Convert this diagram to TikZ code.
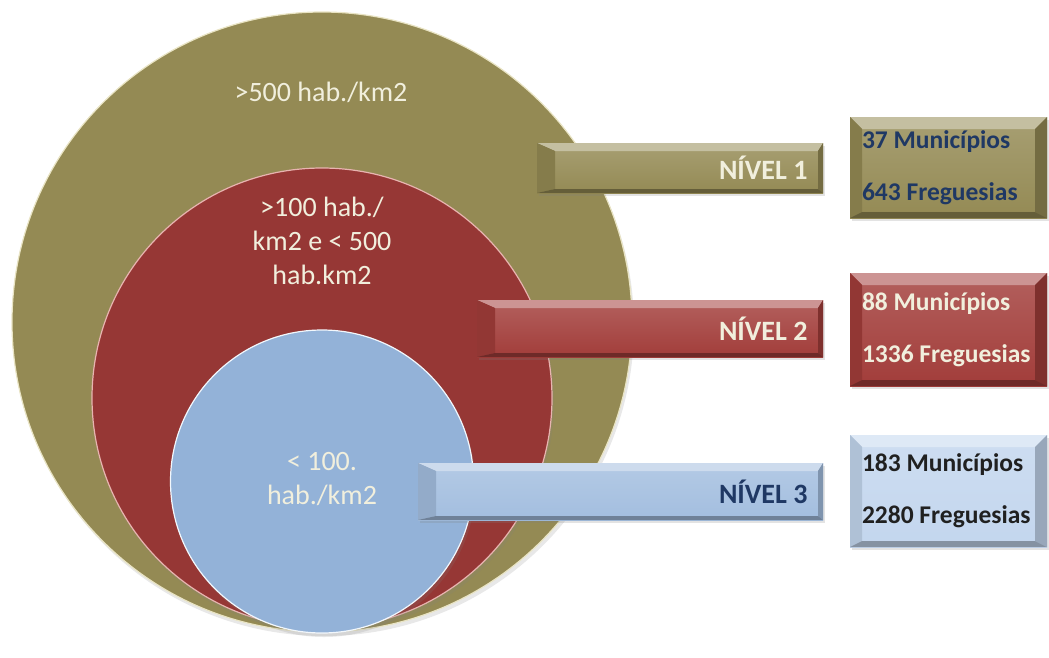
\documentclass[tikz,border=0pt]{standalone}
\usepackage{fontspec}
\setmainfont{Carlito}
\usetikzlibrary{calc,shadows}

\definecolor{lvOlive}{HTML}{948A54}
\definecolor{lvOliveRim}{HTML}{E9E4C4}
\definecolor{lvRed}{HTML}{963735}
\definecolor{lvRedRim}{HTML}{E8B4B0}
\definecolor{lvBlue}{HTML}{93B2D8}
\definecolor{lvBlueRim}{HTML}{F2F7FC}
\definecolor{lvBarRed}{HTML}{A23D3A}
\definecolor{lvBarBlue}{HTML}{A3BEDF}
\definecolor{lvBoxBlue}{HTML}{C3D6EE}
\definecolor{lvCream}{HTML}{F1EFDD}
\definecolor{lvNavy}{HTML}{1F3864}
\definecolor{lvInk}{HTML}{202020}

% right-aligned single line of a given width
\newcommand{\lvRight}[2]{\makebox[#1][r]{#2}}
% two left-aligned lines of a given width
\newcommand{\lvLines}[2]{\parbox[c]{#1}{\raggedright\hyphenpenalty=10000 #2}}

% bevel depths (left, right, top, bottom)
\def\bvL{12pt}\def\bvR{12pt}\def\bvT{10pt}\def\bvB{5pt}

\tikzset{
  bev l/.code={\def\bvL{#1}},
  bev r/.code={\def\bvR{#1}},
  bev t/.code={\def\bvT{#1}},
  bev b/.code={\def\bvB{#1}},
  bevelled/.style={
    top color=#1!82!white, bottom color=#1, draw=none, inner ysep=0pt,
    drop shadow={opacity=0.22, shadow xshift=1.5pt, shadow yshift=-3pt},
    path picture={
      \coordinate (bv-a) at (path picture bounding box.north west);
      \coordinate (bv-b) at (path picture bounding box.north east);
      \coordinate (bv-c) at (path picture bounding box.south east);
      \coordinate (bv-d) at (path picture bounding box.south west);
      \coordinate (bv-ia) at ($(bv-a)+(\bvL,-\bvT)$);
      \coordinate (bv-ib) at ($(bv-b)+(-\bvR,-\bvT)$);
      \coordinate (bv-ic) at ($(bv-c)+(-\bvR,\bvB)$);
      \coordinate (bv-id) at ($(bv-d)+(\bvL,\bvB)$);
      \fill[#1!55!white] (bv-a) -- (bv-b) -- (bv-ib) -- (bv-ia) -- cycle;
      \fill[#1!90!black] (bv-a) -- (bv-ia) -- (bv-id) -- (bv-d) -- cycle;
      \fill[#1!78!black] (bv-b) -- (bv-ib) -- (bv-ic) -- (bv-c) -- cycle;
      \fill[#1!68!black] (bv-d) -- (bv-id) -- (bv-ic) -- (bv-c) -- cycle;
    }},
  disc/.style={circle, inner sep=0pt, minimum size=#1, line width=1.2pt,
    drop shadow={opacity=0.18, shadow xshift=2pt, shadow yshift=-4pt}},
  disclabel/.style={text=lvCream, align=center, font=\fontsize{28}{34}\selectfont},
  levelbar/.style n args={2}{bevelled=#1, bev l=18pt, bev r=5pt, bev t=8pt, bev b=4pt,
    minimum height=#2, inner xsep=15.5pt,
    font=\bfseries\fontsize{28}{30}\selectfont},
  countbox/.style={bevelled=#1, bev l=12pt, bev r=12pt, bev t=12pt, bev b=6pt,
    inner xsep=12pt, font=\bfseries\fontsize{25.5}{52}\selectfont},
}

\begin{document}
\begin{tikzpicture}[x=1pt, y=-1pt]
  \useasboundingbox (0,0) rectangle (1049,657);

  % nested density discs
  \node[disc=620pt, fill=lvOlive, draw=lvOliveRim] (d1) at (322,322) {};
  \node[disc=460pt, fill=lvRed, draw=lvRedRim] (d2) at (322,398) {};
  \node[disc=303pt, fill=lvBlue, draw=lvBlueRim] (d3) at (322,481.5) {};

  \node[disclabel] (t1) at (321,92) {>500 hab./km2};
  \node[disclabel] (t2) at (322,241) {>100 hab./\\km2 e < 500\\hab.km2};
  \node[disclabel] (t3) at (322,479) {< 100.\\hab./km2};

  % level bars
  \node[levelbar={lvOlive}{50pt}, text=lvCream] (n1) at (680,168)
    {\lvRight{255pt}{NÍVEL 1}};
  \node[levelbar={lvBarRed}{57pt}, text=lvCream] (n2) at (650,328.5)
    {\lvRight{315pt}{NÍVEL 2}};
  \node[levelbar={lvBarBlue}{57pt}, text=lvNavy] (n3) at (620.5,491.5)
    {\lvRight{374pt}{NÍVEL 3}};

  % counts per level
  \node[countbox=lvOlive, minimum height=101pt, text=lvNavy] (b1) at (948.5,167.5)
    {\lvLines{173pt}{37 Municípios\\643 Freguesias}};
  \node[countbox=lvBarRed, minimum height=113pt, text=lvCream] (b2) at (948.5,329.5)
    {\lvLines{173pt}{88 Municípios\\1336 Freguesias}};
  \node[countbox=lvBoxBlue, minimum height=112pt, text=lvInk] (b3) at (948.5,491)
    {\lvLines{173pt}{183 Municípios\\2280 Freguesias}};
\end{tikzpicture}
\end{document}
